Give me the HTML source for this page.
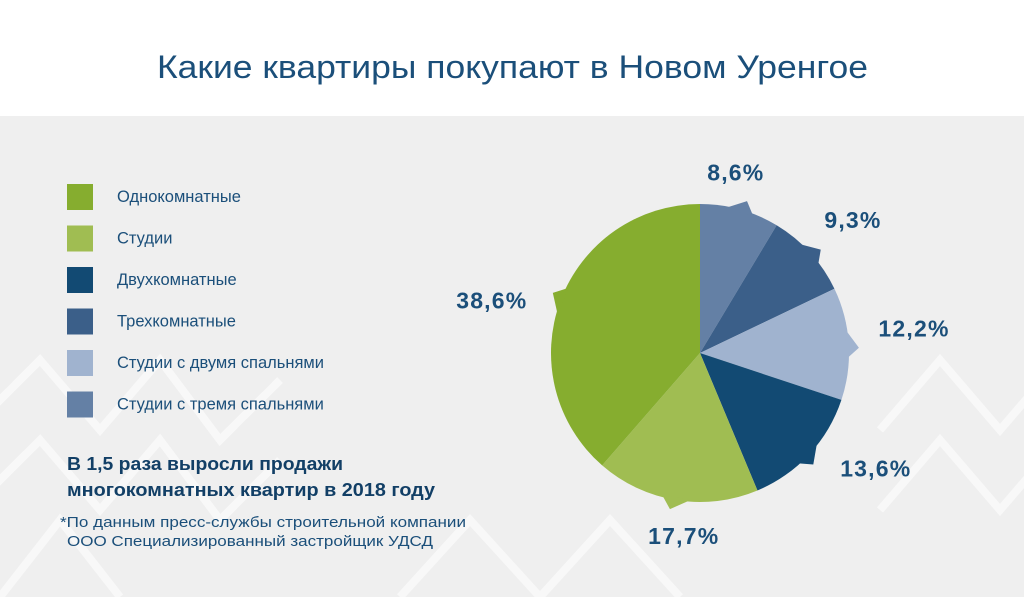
<!DOCTYPE html>
<html><head><meta charset="utf-8">
<style>
body{margin:0;width:1024px;height:597px;overflow:hidden;font-family:"Liberation Sans",sans-serif;background:#fff}
</style></head>
<body>
<svg id="chart" width="1024" height="597" xmlns="http://www.w3.org/2000/svg">
  <rect x="0" y="0" width="1024" height="116" fill="#ffffff"/>
  <rect x="0" y="116" width="1024" height="481" fill="#efefef"/>
  <g fill="none" stroke="#f8f8f8" stroke-width="8">
    <path d="M-20 420 L40 360 L100 430 L160 360 L220 440 L280 380"/>
    <path d="M-20 500 L40 440 L100 510 L160 440 L220 520 L280 460"/>
    <path d="M0 597 L60 520 L120 597"/>
    <path d="M880 430 L940 360 L1000 430 L1060 360"/>
    <path d="M880 510 L940 440 L1000 510 L1060 440"/>
    <path d="M400 597 L470 520 L540 597 L610 520 L680 597"/>
  </g>
  <text x="157" y="78" font-size="32" fill="#1b4f7a" textLength="711" lengthAdjust="spacingAndGlyphs">Какие квартиры покупают в Новом Уренгое</text>
  <g id="legend"></g>
  <text x="67" y="470" font-size="18" font-weight="bold" fill="#123f66" textLength="276" lengthAdjust="spacingAndGlyphs">В 1,5 раза выросли продажи</text>
  <text x="67" y="496" font-size="18" font-weight="bold" fill="#123f66" textLength="368" lengthAdjust="spacingAndGlyphs">многокомнатных квартир в 2018 году</text>
  <text x="60" y="527" font-size="15" fill="#1b4f7a" textLength="406" lengthAdjust="spacingAndGlyphs">*По данным пресс-службы строительной компании</text>
  <text x="67" y="546" font-size="15" fill="#1b4f7a" textLength="366" lengthAdjust="spacingAndGlyphs">ООО Специализированный застройщик УДСД</text>
  <g id="pie"></g>
</svg>
<script>
const legendNames = ["Однокомнатные","Студии","Двухкомнатные","Трехкомнатные","Студии с двумя спальнями","Студии с тремя спальнями"];
const legendColors = ["#86ad2f","#a0bd52","#124a73","#3b5f89","#a0b3cf","#6480a5"];
const sliceValues = [8.6, 9.3, 12.2, 13.6, 17.7, 38.6];
const sliceLabels = ["8,6%","9,3%","12,2%","13,6%","17,7%","38,6%"];
const sliceColors = ["#6480a5","#3b5f89","#a0b3cf","#124a73","#a0bd52","#86ad2f"];
const NS="http://www.w3.org/2000/svg";
const lg=document.getElementById('legend');
legendNames.forEach((n,i)=>{
  const y=184+i*41.5;
  const r=document.createElementNS(NS,'rect');
  
  
  r.setAttribute('x',67);r.setAttribute('y',y);r.setAttribute('width',26);r.setAttribute('height',26);r.setAttribute('fill',legendColors[i]);
  lg.appendChild(r);
  const t=document.createElementNS(NS,'text');
  
  
  t.setAttribute('x',117);t.setAttribute('y',y+18);t.setAttribute('font-size','16.5');t.setAttribute('fill','#1b4f7a');
  t.textContent=n;lg.appendChild(t);
});
const pie=document.getElementById('pie');
const cx=700,cy=353,R=149;
const total=sliceValues.reduce((a,b)=>a+b,0);
function pt(a,r){return [cx+r*Math.sin(a),cy-r*Math.cos(a)];}
let a0=0;
sliceValues.forEach((v,i)=>{
  const a1=a0+v/total*2*Math.PI;
  const p0=pt(a0,R),p1=pt(a1,R);
  const large=(a1-a0)>Math.PI?1:0;
  const am=(a0+a1)/2;
  const d=`M${cx},${cy} L${p0[0]},${p0[1]} A${R},${R} 0 ${large} 1 ${p1[0]},${p1[1]} Z`;
  const p=document.createElementNS(NS,'path');
  
  
  p.setAttribute('d',d);p.setAttribute('fill',sliceColors[i]);
  pie.appendChild(p);
  const ta=Math.min(0.1,(a1-a0)/4);
  const q0=pt(am-ta,R-2),q1=pt(am+ta*0.3,R+10),q2=pt(am+ta,R-2);
  const tab=document.createElementNS(NS,'path');
  
  
  tab.setAttribute('d',`M${q0[0]},${q0[1]} L${q1[0]},${q1[1]} L${q2[0]},${q2[1]} Z`);
  tab.setAttribute('fill',sliceColors[i]);
  pie.appendChild(tab);
  const la=am-4*Math.PI/180;
  const s=Math.sin(la),c=Math.cos(la);
  const lp=pt(la,180);
  const anchor=s>0.3?'start':(s<-0.3?'end':'middle');
  const t=document.createElementNS(NS,'text');
  
  
  t.setAttribute('x',lp[0]);
  t.setAttribute('y',lp[1]+8-4*c);
  t.setAttribute('text-anchor',anchor);
  t.setAttribute('font-size','23');t.setAttribute('font-weight','bold');t.setAttribute('letter-spacing','1.2');t.setAttribute('fill','#1b4f7a');
  t.textContent=sliceLabels[i];pie.appendChild(t);
  a0=a1;
});
</script>
</body></html>
